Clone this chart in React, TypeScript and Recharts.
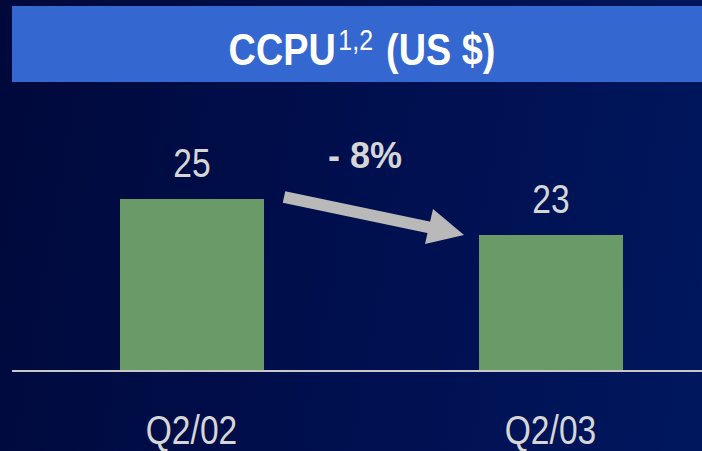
import React from "react";
import { BarChart, Bar, XAxis, YAxis, LabelList } from "recharts";

const categories = ["Q2/02", "Q2/03"];
const ccpuValues = [25, 23];
const changeLabel = "- 8%";
const titleMain = "CCPU";
const titleSup = "1,2";
const titleTail = " (US $)";

const data = categories.map((c, i) => ({ name: c, value: ccpuValues[i] }));

const FONT = "'Liberation Sans', Arial, sans-serif";
const NARROW = 0.84;

const Tick = (props: any) => {
  const { x, y, payload } = props;
  return (
    <text
      transform={`translate(${x},${y + 73}) scale(${NARROW},1)`}
      textAnchor="middle"
      fill="#D6D6D6"
      fontSize={40}
      fontFamily={FONT}
    >
      {payload.value}
    </text>
  );
};

const ValueLabel = (props: any) => {
  const { x, y, width, value } = props;
  return (
    <text
      transform={`translate(${x + width / 2},${y - 22}) scale(${NARROW},1)`}
      textAnchor="middle"
      fill="#D6D6D6"
      fontSize={40}
      fontFamily={FONT}
    >
      {value}
    </text>
  );
};

export default function App() {
  return (
    <div
      style={{
        position: "fixed",
        left: 0,
        top: 0,
        width: 702,
        height: 451,
        overflow: "hidden",
        background: "linear-gradient(100deg, #00093A 0%, #000E4C 45%, #00175E 100%)",
      }}
    >
      <div style={{ position: "absolute", left: 0, top: 0 }}>
        <BarChart
          width={730}
          height={451}
          data={data}
          margin={{ top: 90, right: 0, bottom: 0, left: 12 }}
        >
          <YAxis hide domain={[15.44, 31.05]} allowDataOverflow />
          <XAxis
            dataKey="name"
            height={80}
            tickLine={false}
            tickSize={0}
            tickMargin={0}
            axisLine={{ stroke: "#C8C8C8", strokeWidth: 2 }}
            tick={<Tick />}
            interval={0}
          />
          <Bar dataKey="value" fill="#6A9A68" barSize={144} isAnimationActive={false}>
            <LabelList dataKey="value" content={<ValueLabel />} />
          </Bar>
        </BarChart>
      </div>
      <svg
        width={702}
        height={451}
        style={{ position: "absolute", left: 0, top: 0, pointerEvents: "none" }}
      >
        <rect x={12} y={6} width={700} height={76} fill="#3467CF" />
        <text
          transform={`translate(362,65) scale(0.86,1)`}
          textAnchor="middle"
          fill="#FFFFFF"
          fontSize={44}
          fontWeight="bold"
          fontFamily={FONT}
        >
          {titleMain}
          <tspan fontSize={29} fontWeight="normal" dy={-15} dx={3}>
            {titleSup}
          </tspan>
          <tspan dy={15} dx={3}>
            {titleTail}
          </tspan>
        </text>
        <text
          x={365}
          y={168}
          textAnchor="middle"
          fill="#D6D6D6"
          fontSize={36}
          fontWeight="bold"
          fontFamily={FONT}
        >
          {changeLabel}
        </text>
        <line x1={284} y1={197} x2={432} y2={228} stroke="#B9B9B9" strokeWidth={12} />
        <polygon points="464,235 433,209 425,244" fill="#B9B9B9" />
      </svg>
    </div>
  );
}
